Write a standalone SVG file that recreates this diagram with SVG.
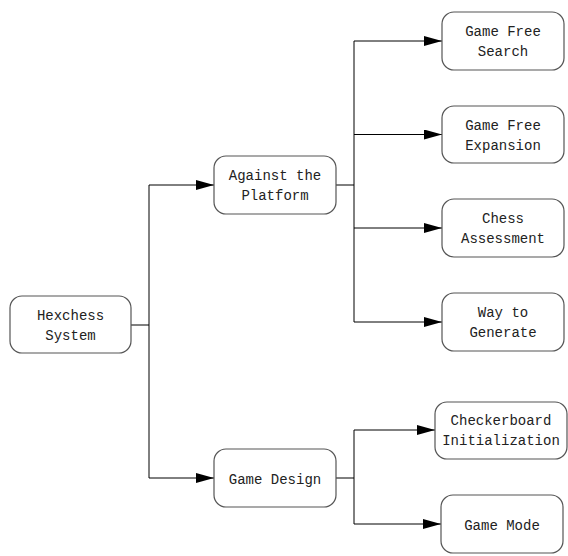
<svg xmlns="http://www.w3.org/2000/svg" width="568" height="556" viewBox="0 0 568 556">
<defs>
<marker id="arr" viewBox="0 0 18 10" refX="18" refY="5" markerWidth="18" markerHeight="10" markerUnits="userSpaceOnUse" orient="auto">
<path d="M0,0 L18,5 L0,10 Z" fill="#000"/>
</marker>
<style>
.box{fill:#fff;stroke:#555;stroke-width:1.2}
.t{font-family:"Liberation Mono","DejaVu Sans Mono",monospace;font-size:14px;fill:#222;text-anchor:middle}
.c{fill:none;stroke:#000;stroke-width:1}
</style>
</defs>
<rect width="568" height="556" fill="#fff"/>
<g id="connectors">
<path class="c" d="M131,325 H149 V185"/>
<path class="c" d="M149,185 H214" marker-end="url(#arr)"/>
<path class="c" d="M149,325 V478 H214" marker-end="url(#arr)"/>
<path class="c" d="M336,185 H354 V41"/>
<path class="c" d="M354,41 H442" marker-end="url(#arr)"/>
<path class="c" d="M354,134.5 H442" marker-end="url(#arr)"/>
<path class="c" d="M354,185 V228 H442" marker-end="url(#arr)"/>
<path class="c" d="M354,228 V322 H442" marker-end="url(#arr)"/>
<path class="c" d="M336,478 H354 V430 H435" marker-end="url(#arr)"/>
<path class="c" d="M354,478 V524 H441" marker-end="url(#arr)"/>
</g>
<g id="hexchess">
<rect class="box" x="10" y="296" width="121" height="57" rx="12"/>
<text class="t" x="70.5" y="320">Hexchess</text>
<text class="t" x="70.5" y="340">System</text>
</g>
<g id="against">
<rect class="box" x="214" y="156" width="122" height="58" rx="12"/>
<text class="t" x="275" y="180">Against the</text>
<text class="t" x="275" y="200">Platform</text>
</g>
<g id="gamedesign">
<rect class="box" x="214" y="449" width="122" height="58" rx="12"/>
<text class="t" x="275" y="484">Game Design</text>
</g>
<g id="search">
<rect class="box" x="442" y="12" width="122" height="58" rx="12"/>
<text class="t" x="503" y="36">Game Free</text>
<text class="t" x="503" y="56">Search</text>
</g>
<g id="expansion">
<rect class="box" x="442" y="106" width="122" height="57" rx="12"/>
<text class="t" x="503" y="129.5">Game Free</text>
<text class="t" x="503" y="149.5">Expansion</text>
</g>
<g id="assessment">
<rect class="box" x="442" y="199" width="122" height="58" rx="12"/>
<text class="t" x="503" y="223">Chess</text>
<text class="t" x="503" y="243">Assessment</text>
</g>
<g id="generate">
<rect class="box" x="442" y="293" width="122" height="58" rx="12"/>
<text class="t" x="503" y="317">Way to</text>
<text class="t" x="503" y="337">Generate</text>
</g>
<g id="checkerboard">
<rect class="box" x="435" y="402" width="132" height="57" rx="12"/>
<text class="t" x="501" y="425">Checkerboard</text>
<text class="t" x="501" y="445">Initialization</text>
</g>
<g id="gamemode">
<rect class="box" x="441" y="495" width="122" height="58" rx="12"/>
<text class="t" x="502" y="530">Game Mode</text>
</g>
</svg>
